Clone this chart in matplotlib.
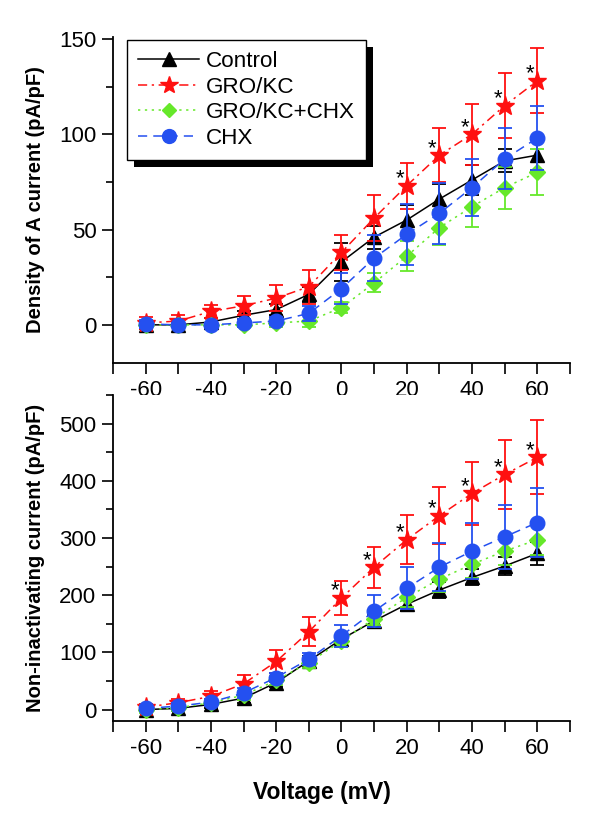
import numpy as np
import matplotlib
matplotlib.use("Agg")
import matplotlib.pyplot as plt
from matplotlib.ticker import MultipleLocator
from matplotlib.patches import Rectangle

plt.rcParams['font.family'] = ['Liberation Sans', 'DejaVu Sans']
plt.rcParams['axes.unicode_minus'] = False

voltage = [-60, -50, -40, -30, -20, -10, 0, 10, 20, 30, 40, 50, 60]

# Density of A current (pA/pF)
ctrl_a = [0, 0, 1.5, 5, 8, 16, 33, 46, 55, 66, 76, 86, 89]
ctrl_a_err = [2, 1, 2, 2, 3, 4, 10, 6, 8, 8, 8, 6, 8]
gro_a = [1, 2, 7, 10, 14, 20, 38, 56, 73, 89, 100, 115, 128]
gro_a_err = [3, 3, 3.5, 5, 7, 9, 9, 12, 12, 14, 16, 17, 17]
grochx_a = [0, 0, 0, 0, 1, 2, 9, 22, 36, 51, 62, 72, 80]
grochx_a_err = [1, 1, 1, 1, 2, 3, 3, 5, 8, 9, 10.5, 11, 12]
chx_a = [0.5, 0, 0, 1, 2, 6, 19, 35, 47.5, 58.5, 72, 87, 98]
chx_a_err = [2, 1, 1, 2, 2, 4, 8, 12, 16, 16, 15, 16, 17]
stars_a = [20, 30, 40, 50, 60]

# Non-inactivating current (pA/pF)
ctrl_n = [0, 2, 9, 20, 47, 85, 123, 155, 184, 209, 231, 251, 273]
ctrl_n_err = [3, 5, 6, 8, 8, 8, 8, 10, 12, 14, 14, 15, 20]
gro_n = [4, 12, 23, 45, 84, 136, 195, 249, 297, 339, 378, 411, 441]
gro_n_err = [5, 6, 9, 15, 20, 25, 30, 36, 43, 50, 55, 61, 65]
grochx_n = [0, 3, 12, 25, 51, 82, 120, 159, 196, 228, 254, 277, 297]
grochx_n_err = [6, 6, 6, 8, 8, 10, 10, 12, 17, 22, 24, 24, 26]
chx_n = [2, 6, 13, 29, 56, 88, 129, 172, 212, 249, 277, 302, 327]
chx_n_err = [4, 5, 6, 8, 8, 10, 19, 28, 37, 42, 49, 56, 60]
stars_n = [0, 10, 20, 30, 40, 50, 60]

labels = ['Control', 'GRO/KC', 'GRO/KC+CHX', 'CHX']
colors = ['black', '#ff1010', '#66e82a', '#2450f0']
markers = ['^', '*', 'D', 'o']
msizes = [10, 14, 8, 10.5]
styles = ['-', (0, (6, 3, 1.5, 3)), (0, (1.5, 3)), (0, (6, 4))]


def panel(ax, series, errs, stars, star_y):
    for y, e, c, m, ms, ls, lab in zip(series, errs, colors, markers, msizes, styles, labels):
        ax.errorbar(voltage, y, yerr=e, fmt='none', ecolor=c, elinewidth=1.3,
                    capsize=5, capthick=1.3)
        ax.plot(voltage, y, color=c, linestyle=ls, lw=1.1, marker=m, ms=ms,
                mec=c, mfc=c, label=lab)
    for v in stars:
        yv = star_y[voltage.index(v)]
        ax.annotate('*', (v, yv), xytext=(-5, 1), textcoords='offset points',
                    ha='center', va='baseline', fontsize=16)
    for s in ['top', 'right']:
        ax.spines[s].set_visible(False)
    for s in ['left', 'bottom']:
        ax.spines[s].set_linewidth(1.3)
    ax.set_xlim(-70, 70)
    ax.xaxis.set_major_locator(MultipleLocator(20))
    ax.xaxis.set_minor_locator(MultipleLocator(10))
    ax.tick_params(axis='both', which='major', direction='out', length=8,
                   width=1.2, labelsize=16, pad=4)
    ax.tick_params(axis='x', which='minor', direction='out', length=8, width=1.2)
    ax.tick_params(axis='y', which='minor', direction='out', length=5, width=1.2)


fig = plt.figure(figsize=(6, 8.27), dpi=100)
ax1 = fig.add_axes([0.1883, 0.5611, 0.7617, 0.3942])
ax2 = fig.add_axes([0.1883, 0.1282, 0.7617, 0.3942])

panel(ax1, [ctrl_a, gro_a, grochx_a, chx_a],
      [ctrl_a_err, gro_a_err, grochx_a_err, chx_a_err], stars_a, gro_a)
ax1.set_ylim(-20, 151)
ax1.yaxis.set_major_locator(MultipleLocator(50))
ax1.yaxis.set_minor_locator(MultipleLocator(25))
ax1.set_ylabel('Density of A current (pA/pF)', fontsize=14.5, fontweight='bold')
ax1.yaxis.set_label_coords(-0.148, 0.5)

panel(ax2, [ctrl_n, gro_n, grochx_n, chx_n],
      [ctrl_n_err, gro_n_err, grochx_n_err, chx_n_err], stars_n, gro_n)
ax2.set_ylim(-20, 550)
ax2.yaxis.set_major_locator(MultipleLocator(100))
ax2.yaxis.set_minor_locator(MultipleLocator(50))
ax2.set_ylabel('Non-inactivating current (pA/pF)', fontsize=14.5, fontweight='bold')
ax2.yaxis.set_label_coords(-0.148, 0.5)

fig.text(322 / 600, 1 - 793 / 827, 'Voltage (mV)', ha='center', va='center',
         fontsize=16.5, fontweight='bold')

leg = ax1.legend(loc='upper left', bbox_to_anchor=(0.0306, 0.9908),
                 borderaxespad=0, fontsize=16.2, fancybox=False, edgecolor='black',
                 framealpha=1, handlelength=2.7, handletextpad=0.3,
                 labelspacing=0.2, borderpad=0.5, markerscale=0.95)
leg.get_frame().set_linewidth(1.0)

# Origin-style solid black shadow behind the legend box
fig.canvas.draw()
bb = leg.get_frame().get_window_extent()
inv = ax1.transAxes.inverted()
(x0, y0), (x1, y1) = inv.transform([[bb.x0 + 7, bb.y0 - 7], [bb.x1 + 7, bb.y1 - 7]])
ax1.add_patch(Rectangle((x0, y0), x1 - x0, y1 - y0, transform=ax1.transAxes,
                        facecolor='black', edgecolor='none', zorder=4.9, clip_on=False))

plt.savefig('out.png', dpi=100)
